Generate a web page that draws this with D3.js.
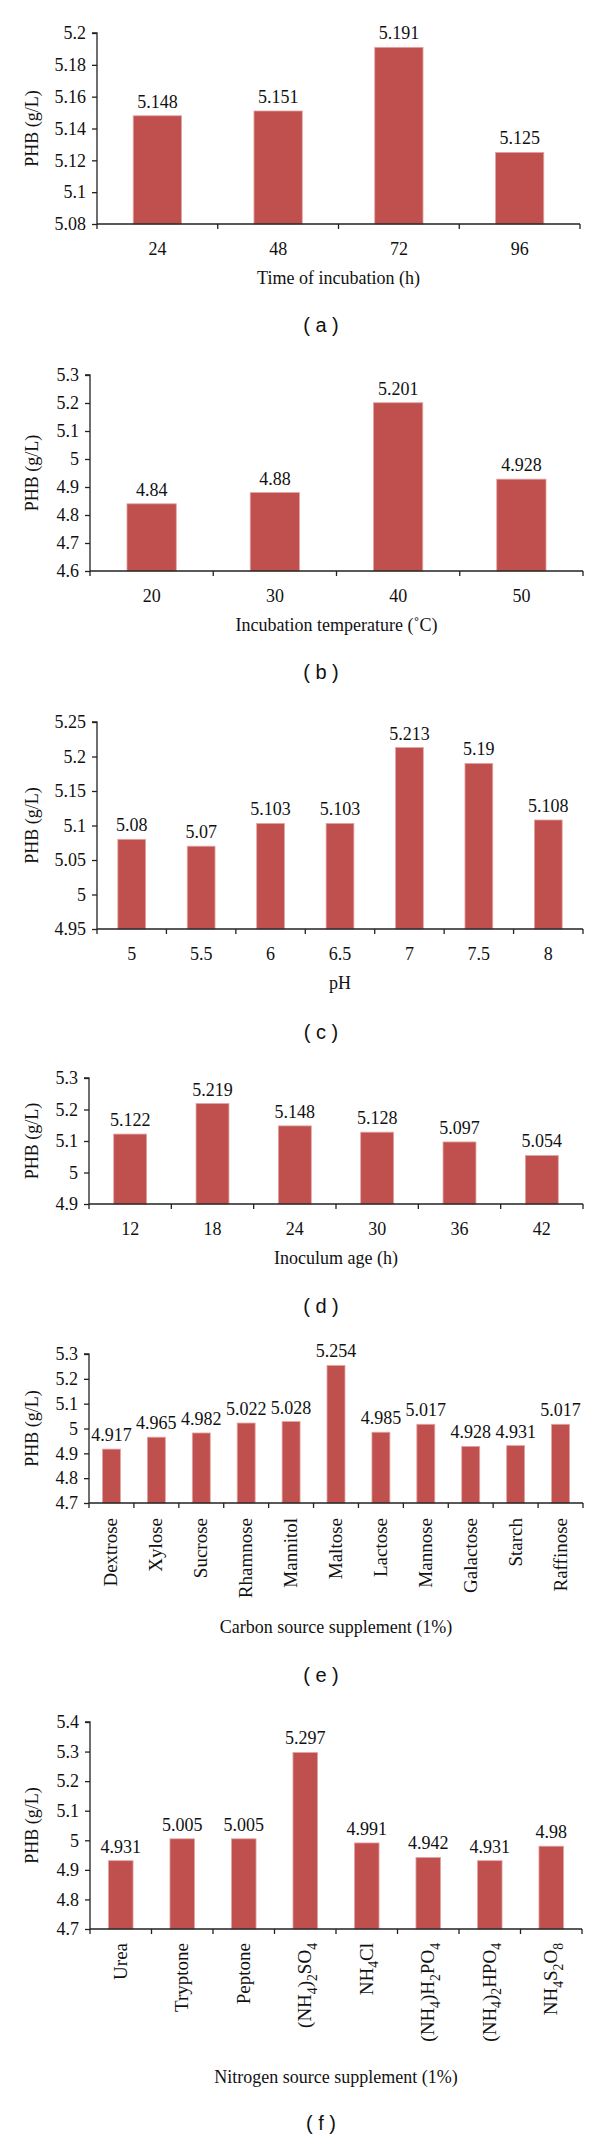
<!DOCTYPE html>
<html>
<head>
<meta charset="utf-8">
<script src="https://cdn.jsdelivr.net/npm/d3@7"></script>
<style>
  html, body { margin: 0; padding: 0; background: #fff; }
  svg { display: block; }
  text { font-family: "Liberation Serif", "Times New Roman", serif; fill: #111; }
  .plabel { font-family: "Liberation Sans", Arial, sans-serif; }
</style>
</head>
<body>
<svg id="chart" width="600" height="2139"></svg>
<script>
// ---------- DATA ----------
const timeCats = ["24", "48", "72", "96"];
const timeVals = [5.148, 5.151, 5.191, 5.125];
const timeTicks = [5.08, 5.1, 5.12, 5.14, 5.16, 5.18, 5.2];

const tempCats = ["20", "30", "40", "50"];
const tempVals = [4.84, 4.88, 5.201, 4.928];
const tempTicks = [4.6, 4.7, 4.8, 4.9, 5.0, 5.1, 5.2, 5.3];

const phCats = ["5", "5.5", "6", "6.5", "7", "7.5", "8"];
const phVals = [5.08, 5.07, 5.103, 5.103, 5.213, 5.19, 5.108];
const phTicks = [4.95, 5.0, 5.05, 5.1, 5.15, 5.2, 5.25];

const ageCats = ["12", "18", "24", "30", "36", "42"];
const ageVals = [5.122, 5.219, 5.148, 5.128, 5.097, 5.054];
const ageTicks = [4.9, 5.0, 5.1, 5.2, 5.3];

const carbonCats = ["Dextrose", "Xylose", "Sucrose", "Rhamnose", "Mannitol", "Maltose", "Lactose", "Mannose", "Galactose", "Starch", "Raffinose"];
const carbonVals = [4.917, 4.965, 4.982, 5.022, 5.028, 5.254, 4.985, 5.017, 4.928, 4.931, 5.017];
const carbonTicks = [4.7, 4.8, 4.9, 5.0, 5.1, 5.2, 5.3];

// "_x" marks a one-character subscript
const nitroCats = ["Urea", "Tryptone", "Peptone", "(NH_4)_2SO_4", "NH_4Cl", "(NH_4)H_2PO_4", "(NH_4)_2HPO_4", "NH_4S_2O_8"];
const nitroVals = [4.931, 5.005, 5.005, 5.297, 4.991, 4.942, 4.931, 4.98];
const nitroTicks = [4.7, 4.8, 4.9, 5.0, 5.1, 5.2, 5.3, 5.4];

const yTitle = "PHB (g/L)";

// ---------- LAYOUT ----------
const panels = [
  {cats: timeCats, vals: timeVals, ticks: timeTicks, xTitle: "Time of incubation (h)", tag: "( a )",
   left: 97, right: 580, top: 33, bottom: 224, rotate: false, titleY: 284, tagY: 332},
  {cats: tempCats, vals: tempVals, ticks: tempTicks, xTitle: "Incubation temperature (\u02DAC)", tag: "( b )",
   left: 90, right: 583, top: 375, bottom: 571, rotate: false, titleY: 631, tagY: 679},
  {cats: phCats, vals: phVals, ticks: phTicks, xTitle: "pH", tag: "( c )",
   left: 97, right: 583, top: 722, bottom: 929, rotate: false, titleY: 989, tagY: 1039},
  {cats: ageCats, vals: ageVals, ticks: ageTicks, xTitle: "Inoculum age (h)", tag: "( d )",
   left: 89, right: 583, top: 1078, bottom: 1204, rotate: false, titleY: 1264, tagY: 1313},
  {cats: carbonCats, vals: carbonVals, ticks: carbonTicks, xTitle: "Carbon source supplement (1%)", tag: "( e )",
   left: 89, right: 583, top: 1354, bottom: 1503, rotate: true, labelGap: 15, titleY: 1633, tagY: 1682},
  {cats: nitroCats, vals: nitroVals, ticks: nitroTicks, xTitle: "Nitrogen source supplement (1%)", tag: "( f )",
   left: 90, right: 582, top: 1722, bottom: 1929, rotate: true, labelGap: 14, titleY: 2083, tagY: 2130}
];

const barColor = "#C0504D";
const axisColor = "#222";
const fs = 18;
const fsRot = 19;
const svg = d3.select("#chart");

function fmt(v) { return String(+v.toFixed(3)); }

function addRich(textSel, label, size) {
  const parts = [];
  let buf = "";
  for (let i = 0; i < label.length; i++) {
    if (label[i] === "_" && i + 1 < label.length) {
      if (buf) { parts.push({t: buf, sub: false}); buf = ""; }
      parts.push({t: label[i + 1], sub: true});
      i++;
    } else buf += label[i];
  }
  if (buf) parts.push({t: buf, sub: false});
  let shifted = false;
  parts.forEach(p => {
    const ts = textSel.append("tspan").text(p.t);
    if (p.sub) {
      ts.attr("font-size", size * 0.72);
      if (!shifted) { ts.attr("dy", size * 0.3); shifted = true; }
    } else if (shifted) {
      ts.attr("dy", -size * 0.3); shifted = false;
    }
  });
}

panels.forEach(p => {
  const g = svg.append("g");
  const x = d3.scaleBand().domain(p.cats).range([p.left, p.right]).paddingInner(0.6).paddingOuter(0.3);
  const y = d3.scaleLinear().domain([p.ticks[0], p.ticks[p.ticks.length - 1]]).range([p.bottom, p.top]);

  // bars
  g.selectAll("rect.bar").data(p.vals).enter().append("rect")
    .attr("class", "bar")
    .attr("x", (d, i) => x(p.cats[i]))
    .attr("width", x.bandwidth())
    .attr("y", d => y(d))
    .attr("height", d => y(p.ticks[0]) - y(d))
    .attr("fill", barColor)
    .attr("stroke", "#e3a5a3").attr("stroke-width", 0.8);

  // value labels
  g.selectAll("text.val").data(p.vals).enter().append("text")
    .attr("class", "val")
    .attr("x", (d, i) => x(p.cats[i]) + x.bandwidth() / 2)
    .attr("y", d => y(d) - 8)
    .attr("text-anchor", "middle")
    .attr("font-size", fs)
    .text(d => fmt(d));

  // y axis
  const yAxis = d3.axisLeft(y).tickValues(p.ticks).tickFormat(fmt).tickSize(5).tickPadding(6);
  const ya = g.append("g").attr("transform", `translate(${p.left},0)`).call(yAxis);
  ya.select(".domain").attr("stroke", axisColor).attr("stroke-width", 1.3).attr("d", `M-5,${p.top}H0V${p.bottom}`);
  ya.selectAll(".tick line").attr("stroke", axisColor).attr("stroke-width", 1.3);
  ya.selectAll(".tick text").attr("font-size", fs).attr("font-family", "Liberation Serif, Times New Roman, serif").attr("fill", "#111");

  // x axis: line + boundary ticks
  const xa = g.append("g");
  xa.append("line").attr("x1", p.left).attr("x2", p.right).attr("y1", p.bottom).attr("y2", p.bottom)
    .attr("stroke", axisColor).attr("stroke-width", 1.3);
  const bounds = p.cats.map((c, i) => p.left + i * x.step());
  bounds.push(p.right);
  xa.selectAll("line.tk").data(bounds).enter().append("line")
    .attr("x1", d => d).attr("x2", d => d).attr("y1", p.bottom).attr("y2", p.bottom + 5)
    .attr("stroke", axisColor).attr("stroke-width", 1.3);

  // x tick labels
  p.cats.forEach(c => {
    const cx = x(c) + x.bandwidth() / 2;
    if (!p.rotate) {
      xa.append("text").attr("x", cx).attr("y", p.bottom + 31)
        .attr("text-anchor", "middle").attr("font-size", fs).text(c);
    } else {
      const t = xa.append("text")
        .attr("transform", `translate(${cx + 6},${p.bottom + p.labelGap}) rotate(-90)`)
        .attr("text-anchor", "end").attr("font-size", fsRot);
      addRich(t, c, fsRot);
    }
  });

  // x title
  g.append("text").attr("x", (p.left + p.right) / 2).attr("y", p.titleY)
    .attr("text-anchor", "middle").attr("font-size", fs).text(p.xTitle);

  // y title
  g.append("text")
    .attr("transform", `translate(32,${(p.top + p.bottom) / 2}) rotate(-90)`)
    .attr("text-anchor", "middle").attr("dy", "0.35em").attr("font-size", fs).text(yTitle);

  // panel tag
  g.append("text").attr("class", "plabel").attr("x", 321).attr("y", p.tagY)
    .attr("text-anchor", "middle").attr("font-size", 20).text(p.tag);
});
</script>
</body>
</html>
